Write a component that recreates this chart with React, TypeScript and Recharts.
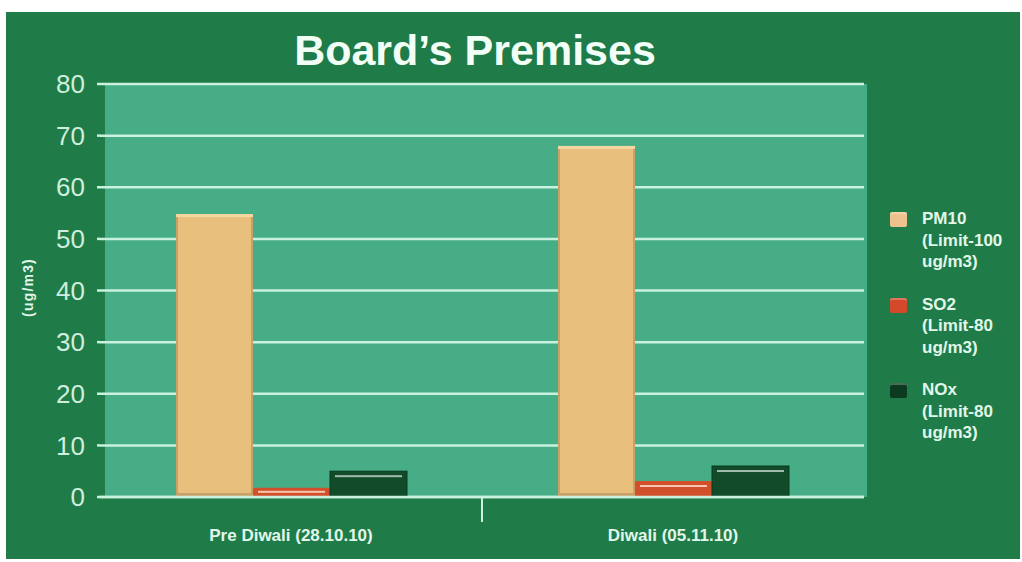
import { BarChart, Bar, XAxis, YAxis, CartesianGrid, Legend, Label } from "recharts";

// ── Data ─────────────────────────────────────────────────────────────────────
const CATEGORIES = ["Pre Diwali (28.10.10)", "Diwali (05.11.10)"];
const PM10_VALUES = [54.8, 68.0];
const SO2_VALUES = [1.8, 3.1];
const NOX_VALUES = [5.0, 6.0];
const Y_TICKS = [0, 10, 20, 30, 40, 50, 60, 70, 80];
const SERIES_KEYS = ["pm10", "so2", "nox"];
const LEGEND_LINES: Record<string, string[]> = {
  pm10: ["PM10", "(Limit-100", "ug/m3)"],
  so2: ["SO2", "(Limit-80", "ug/m3)"],
  nox: ["NOx", "(Limit-80", "ug/m3)"],
};

const data = CATEGORIES.map((cat, i) => ({
  cat,
  pm10: PM10_VALUES[i],
  so2: SO2_VALUES[i],
  nox: NOX_VALUES[i],
}));

// ── Theme ────────────────────────────────────────────────────────────────────
const W = 1022;
const H = 562;
const PLOT_LEFT = 100;
const PLOT_RIGHT = 864;
const PLOT_TOP = 84;
const PLOT_BOTTOM = 497;
const BAND = (PLOT_RIGHT - PLOT_LEFT) / CATEGORIES.length;

const PANEL = "#1f7c48";
const PLOT_BG = "#46ad86";
const GRID = "#c9f1dd";
const TEXT = "#e2f6ea";
const TICK_TEXT = "#cfeedc";
const FONT = "'Liberation Sans', Arial, sans-serif";

const PM10_FILL = "#e8bf7c";
const SO2_FILL = "#d24f2c";
const NOX_FILL = "#114b2a";

// ── Bar shapes (flat 3D-ish look) ────────────────────────────────────────────
function Pm10Shape(p: any) {
  const { x, y, width, height } = p;
  if (!height || height <= 0) return null;
  return (
    <g>
      <rect x={x} y={y} width={width} height={height} fill={PM10_FILL} />
      <rect x={x} y={y} width={2} height={height} fill="#c9a067" />
      <rect x={x + width - 2} y={y} width={2} height={height} fill="#c9a067" />
      <rect x={x} y={y} width={width} height={3} fill="#f4d7a3" />
      <rect x={x} y={y + height - 4} width={width} height={4} fill="#c9a067" />
    </g>
  );
}

function So2Shape(p: any) {
  const { x, y, width, height } = p;
  if (!height || height <= 0) return null;
  return (
    <g>
      <rect x={x} y={y} width={width} height={height} fill={SO2_FILL} rx={2} />
      <rect x={x + 5} y={y + Math.min(4, height / 3)} width={width - 10} height={Math.min(2, height / 4)} fill="#f8c6ae" />
    </g>
  );
}

function NoxShape(p: any) {
  const { x, y, width, height } = p;
  if (!height || height <= 0) return null;
  return (
    <g>
      <rect x={x} y={y} width={width} height={height} fill={NOX_FILL} stroke="#0a3a1f" strokeWidth={1} />
      <rect x={x + 5} y={y + 4} width={width - 10} height={2} fill="#a3bcab" />
    </g>
  );
}

// ── Axis pieces ──────────────────────────────────────────────────────────────
function CategoryTick(props: any) {
  const { x, y, payload, index } = props;
  return (
    <g>
      {index === 0 && (
        <line x1={x + BAND / 2} x2={x + BAND / 2} y1={y - 31} y2={y - 7} stroke={GRID} strokeWidth={2} />
      )}
      <text x={x} y={y} dy="0.71em" textAnchor="middle" fill={TEXT} fontSize={17} fontWeight={700} fontFamily={FONT}>
        {payload.value}
      </text>
    </g>
  );
}

function YTitle(props: any) {
  const vb = props.viewBox || { x: 0, y: PLOT_TOP, width: PLOT_LEFT, height: PLOT_BOTTOM - PLOT_TOP };
  const cx = vb.x + 28;
  const cy = vb.y + vb.height / 2 - 3;
  return (
    <text
      x={cx}
      y={cy}
      transform={`rotate(-90 ${cx} ${cy})`}
      textAnchor="middle"
      dominantBaseline="central"
      fill={TEXT}
      fontSize={14}
      fontWeight={700}
      fontFamily={FONT}
      letterSpacing={1.2}
    >
      (ug/m3)
    </text>
  );
}

const SWATCH: Record<string, string> = { pm10: "#eec28f", so2: "#d4492a", nox: "#0c3a20" };

function LegendContent(props: any) {
  const items = [...(props.payload || [])].sort(
    (a: any, b: any) => SERIES_KEYS.indexOf(a.dataKey) - SERIES_KEYS.indexOf(b.dataKey)
  );
  return (
    <div style={{ fontFamily: FONT }}>
      {items.map((item: any) => {
        const key = item.dataKey as string;
        return (
          <div key={key} style={{ display: "flex", alignItems: "flex-start", marginBottom: 21 }}>
            <div
              style={{
                width: 17,
                height: 15,
                marginTop: 4,
                marginRight: 15,
                background: SWATCH[key],
                borderRadius: 2,
                boxShadow: "inset 0 2px 0 rgba(255,255,255,0.25)",
              }}
            />
            <div style={{ color: TEXT, fontSize: 17, fontWeight: 700, lineHeight: "21.5px" }}>
              {LEGEND_LINES[key].map((line) => (
                <div key={line}>{line}</div>
              ))}
            </div>
          </div>
        );
      })}
    </div>
  );
}

// ── App ──────────────────────────────────────────────────────────────────────
export default function App() {
  return (
    <div style={{ position: "absolute", left: 0, top: 0, width: W, height: H, background: "#ffffff", overflow: "hidden" }}>
      <div style={{ position: "absolute", left: 6, top: 12, width: W - 8, height: H - 15, background: PANEL }} />
      <div
        style={{
          position: "absolute",
          left: 105,
          top: PLOT_TOP,
          width: 762,
          height: PLOT_BOTTOM - PLOT_TOP,
          background: PLOT_BG,
        }}
      />
      <div
        style={{
          position: "absolute",
          left: 0,
          top: 29,
          width: 950,
          textAlign: "center",
          fontFamily: FONT,
          fontWeight: 700,
          fontSize: 43,
          lineHeight: "43px",
          color: "#f2fff6",
        }}
      >
        Board’s Premises
      </div>
      <div style={{ position: "absolute", left: 0, top: 0 }}>
        <BarChart
          width={W}
          height={H}
          data={data}
          barSize={77}
          barGap={0}
          margin={{ top: PLOT_TOP, right: W - PLOT_RIGHT, bottom: 0, left: 0 }}
        >
          <CartesianGrid vertical={false} stroke={GRID} strokeWidth={2.5} strokeOpacity={1} />
          <XAxis
            dataKey="cat"
            height={H - PLOT_BOTTOM}
            axisLine={{ stroke: GRID, strokeWidth: 2.5 }}
            tickLine={false}
            tickSize={0}
            tickMargin={32}
            tick={<CategoryTick />}
            interval={0}
          />
          <YAxis
            width={PLOT_LEFT}
            domain={[0, 80]}
            ticks={Y_TICKS}
            interval={0}
            axisLine={false}
            tickSize={3}
            tickMargin={12}
            tickLine={{ stroke: GRID, strokeWidth: 2.5 }}
            tick={{ fill: TICK_TEXT, fontSize: 26, fontFamily: FONT }}
          >
            <Label content={<YTitle />} position="insideLeft" />
          </YAxis>
          <Legend
            layout="vertical"
            align="center"
            verticalAlign="middle"
            content={<LegendContent />}
            wrapperStyle={{ left: 890, top: 208, width: 130 }}
          />
          <Bar dataKey="pm10" name="PM10" fill={PM10_FILL} shape={<Pm10Shape />} isAnimationActive={false} />
          <Bar dataKey="so2" name="SO2" fill={SO2_FILL} shape={<So2Shape />} isAnimationActive={false} />
          <Bar dataKey="nox" name="NOx" fill={NOX_FILL} shape={<NoxShape />} isAnimationActive={false} />
        </BarChart>
      </div>
    </div>
  );
}
